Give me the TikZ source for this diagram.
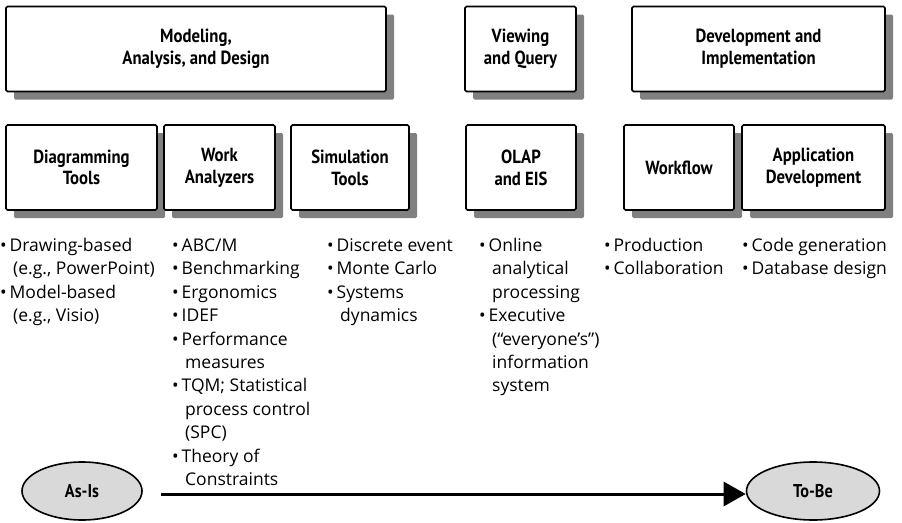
\documentclass[tikz,border=0pt]{standalone}
\usepackage{fontspec}
\setmainfont{Open Sans}
\newfontfamily\headfont[FakeStretch=0.88]{PT Sans}
\usetikzlibrary{shapes.geometric,shadows,arrows.meta,positioning}
\newcommand\bul{\makebox[9.5pt][l]{\textbullet}}
\newcommand\cont{\hspace*{13pt}}
\tikzset{
  stage/.style={
    draw,
    line width=1.6pt,
    rounded corners=1.5pt,
    fill=white,
    drop shadow={shadow xshift=8pt,shadow yshift=-8pt,fill=black!50,opacity=1},
    align=center,
    inner sep=2pt,
    minimum height=85pt,
    font=\headfont\bfseries\fontsize{19}{21.7}\selectfont
  },
  state/.style={
    ellipse,
    draw,
    line width=1.6pt,
    fill=black!15,
    minimum height=58pt,
    font=\headfont\bfseries\fontsize{18.5}{21.7}\selectfont
  },
  items/.style={
    anchor=north west,
    align=left,
    inner sep=0pt,
    font=\fontsize{17.5}{23.4}\selectfont
  },
  flow/.style={
    line width=3pt,
    -{Triangle[length=22pt,width=24pt]}
  }
}
\begin{document}
\begin{tikzpicture}[x=1pt,y=-1pt]
\useasboundingbox (0,0) rectangle (902,522);
\node[stage,minimum width=380pt] (model) at (196,49) {Modeling,\\Analysis, and Design};
\node[stage,minimum width=111pt] (view) at (520.5,49) {Viewing\\and Query};
\node[stage,minimum width=253pt] (devimpl) at (758.5,49) {Development and\\Implementation};

\node[stage,minimum width=151pt] (diag) at (81.5,167.5) {Diagramming\\Tools};
\node[stage,minimum width=111pt] (work) at (219.5,167.5) {Work\\Analyzers};
\node[stage,minimum width=118pt] (sim) at (350,167.5) {Simulation\\Tools};
\node[stage,minimum width=110pt] (olap) at (521,167.5) {OLAP\\and EIS};
\node[stage,minimum width=110pt] (wflow) at (679,167.5) {Workflow};
\node[stage,minimum width=143pt] (appdev) at (813.5,167.5) {Application\\Development};

\node[items] (diagitems) at (0,235) {\strut\bul Drawing-based\\\cont(e.g., PowerPoint)\\\bul Model-based\\\cont(e.g., Visio)};
\node[items] (workitems) at (172,235) {\strut\bul ABC/M\\\bul Benchmarking\\\bul Ergonomics\\\bul IDEF\\\bul Performance\\\cont measures\\\bul TQM; Statistical\\\cont process control\\\cont(SPC)\\\bul Theory of\\\cont Constraints};
\node[items] (simitems) at (327,235) {\strut\bul Discrete event\\\bul Monte Carlo\\\bul Systems\\\cont dynamics};
\node[items] (olapitems) at (479,235) {\strut\bul Online\\\cont analytical\\\cont processing\\\bul Executive\\\cont(“everyone’s”)\\\cont information\\\cont system};
\node[items] (wflowitems) at (604,235) {\strut\bul Production\\\bul Collaboration};
\node[items] (appitems) at (742,235) {\strut\bul Code generation\\\bul Database design};

\node[state,minimum width=120pt] (asis) at (82,491) {As-Is};
\node[state,minimum width=133pt] (tobe) at (813,491) {To-Be};
\draw[flow] ([xshift=18pt,yshift=-3pt]asis.east) -- ([yshift=-3pt]tobe.west);
\end{tikzpicture}
\end{document}
